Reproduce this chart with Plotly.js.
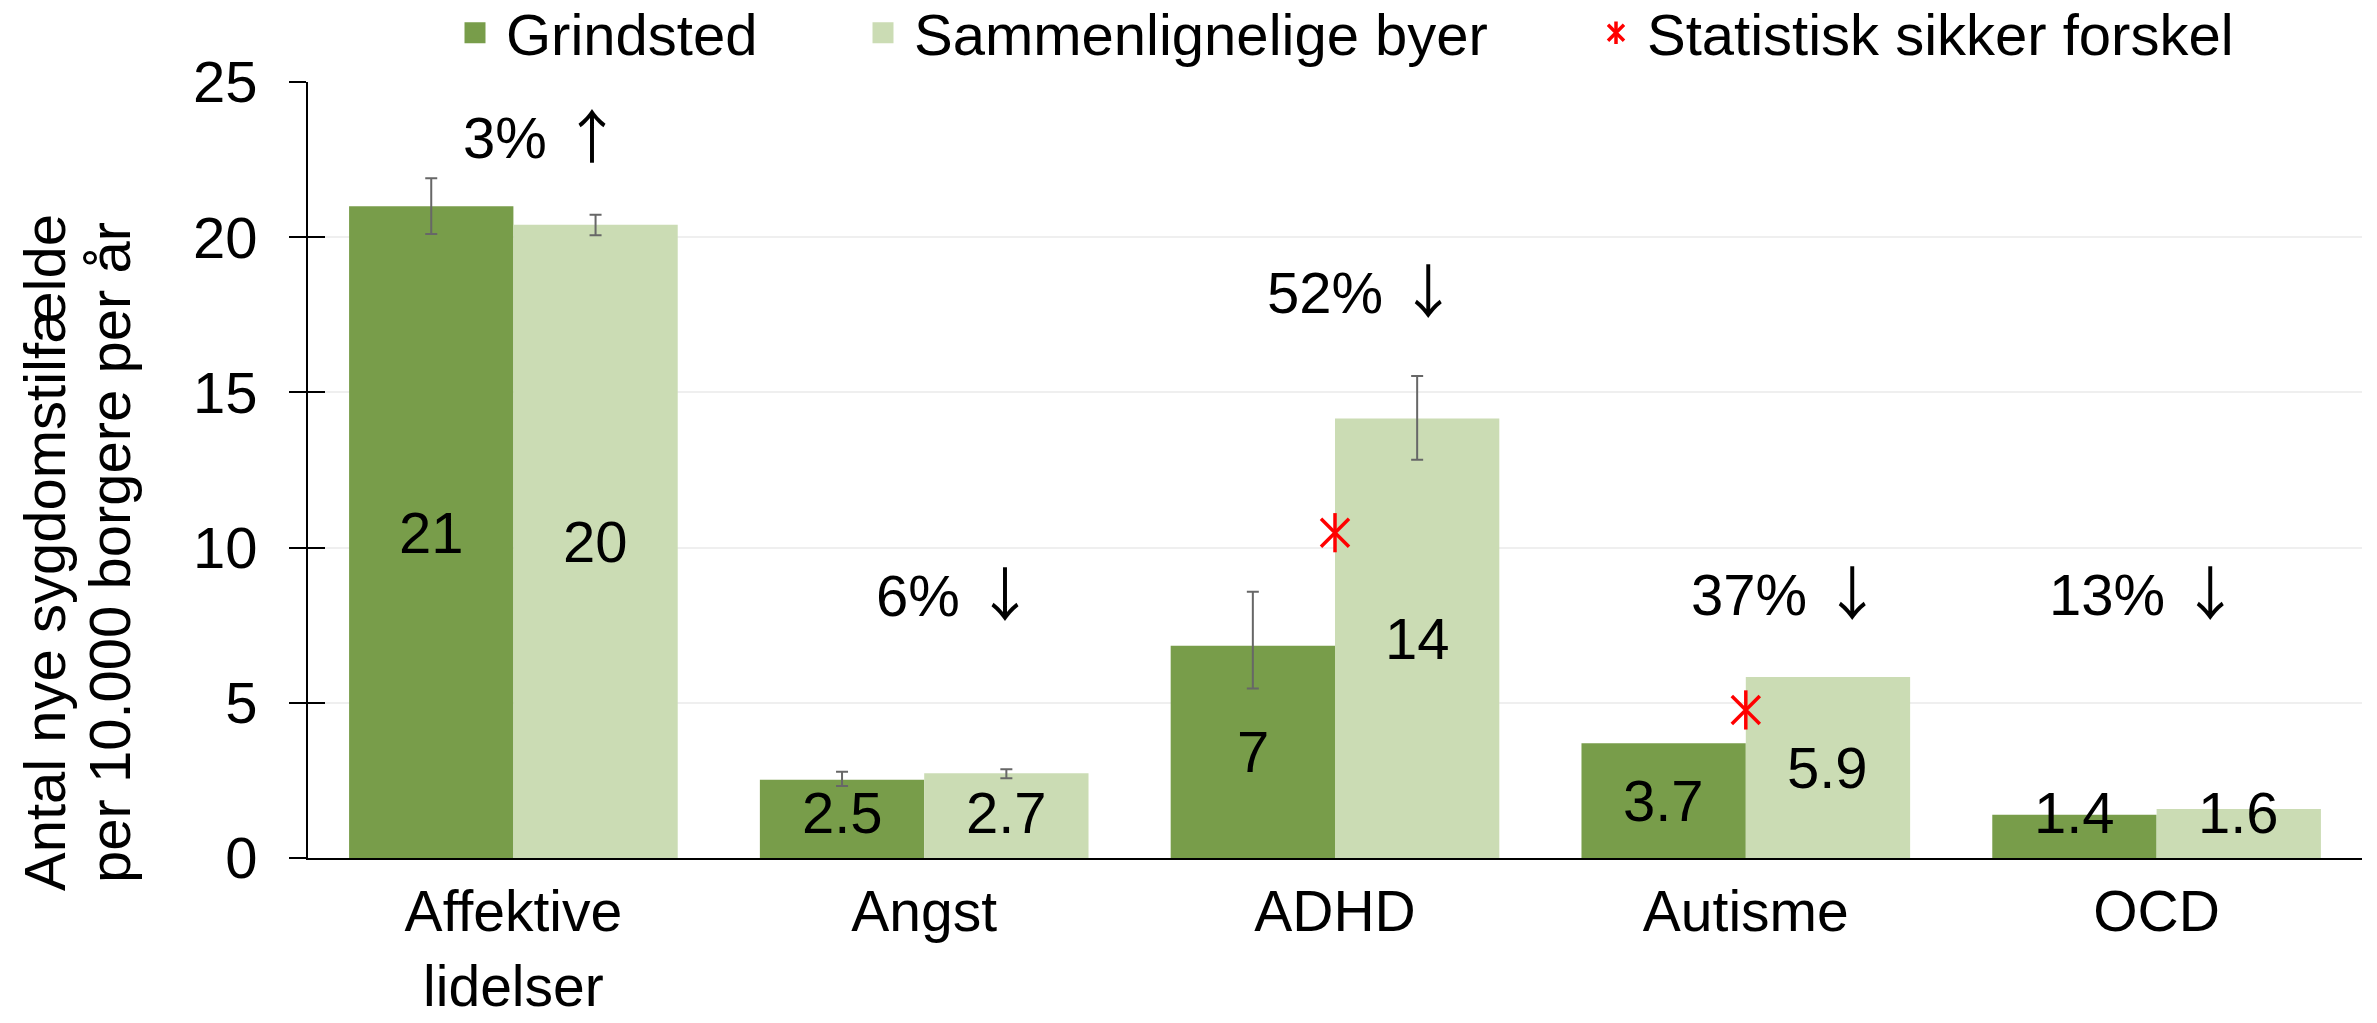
<!DOCTYPE html>
<html><head><meta charset="utf-8">
<script src="https://cdn.plot.ly/plotly-3.0.1.min.js"></script>
<style>html,body{margin:0;padding:0;background:#fff}#chart{width:2377px;height:1023px}</style>
</head><body><div id="chart"></div>
<script>
// ---- data ----
const categories = ['Affektive<br>lidelser', 'Angst', 'ADHD', 'Autisme', 'OCD'];
const seriesNames = ['Grindsted', 'Sammenlignelige byer'];
const grindsted = [21.0, 2.52, 6.84, 3.70, 1.39];
const comparable = [20.4, 2.73, 14.16, 5.83, 1.58];
const grindstedErrPlus = [0.90, 0.26, 1.74, NaN, NaN];
const grindstedErrMinus = [0.90, 0.20, 1.38, NaN, NaN];
const comparableErrPlus = [0.32, 0.13, 1.37, NaN, NaN];
const comparableErrMinus = [0.34, 0.16, 1.33, NaN, NaN];
const grindstedLabels = ['21', '2.5', '7', '3.7', '1.4'];
const comparableLabels = ['20', '2.7', '14', '5.9', '1.6'];
const changePercents = ['3%', '6%', '52%', '37%', '13%'];
const changeArrows = ['↑', '↓', '↓', '↓', '↓'];
const significantName = 'Statistisk sikker forskel';
const significantMarkerY = [null, null, 10.48, 4.77, null];
const yTitleLines = ['Antal nye sygdomstilfælde', 'per 10.000 borgere per år'];

// ---- style / layout constants ----
const W = 2377, H = 1023;
const M = {l: 308, r: 15, t: 82, b: 165, autoexpand: false};
const plotW = W - M.l - M.r, plotH = H - M.t - M.b;
const pxX = px => (px - M.l) / plotW;
const pxY = py => (H - M.b - py) / plotH;
const FONT = '"Liberation Sans", Arial, sans-serif';
const ARROW_FONT = "'Noto Sans CJK JP', 'DejaVu Sans', sans-serif";
const FS = 58;
const GREEN = '#789D4A', LIGHT = '#CBDCB4', RED = '#FF0000', ERR = '#676767';
const changeLabelY = [23.36, 8.59, 18.35, 8.62, 8.65];
const changeLabelShiftPx = [-52, -50, -70, -57, -110];
const minLabelY = 1.47;
const barHalfOffset = 0.2;

const errStyle = {color: ERR, thickness: 2, width: 6};

const traces = [
  {type: 'bar', x: categories, y: grindsted, name: seriesNames[0], showlegend: false,
   marker: {color: GREEN}, error_y: Object.assign({type: 'data', symmetric: false, array: grindstedErrPlus, arrayminus: grindstedErrMinus}, errStyle)},
  {type: 'bar', x: categories, y: comparable, name: seriesNames[1], showlegend: false,
   marker: {color: LIGHT}, error_y: Object.assign({type: 'data', symmetric: false, array: comparableErrPlus, arrayminus: comparableErrMinus}, errStyle)},
  {type: 'scatter', x: categories, y: significantMarkerY, yaxis: 'y2', mode: 'markers', name: significantName,
   legend: 'legend3', marker: {symbol: 'x-thin-open', size: 28, color: RED, line: {width: 3.5, color: RED}}},
  {type: 'scatter', x: categories, y: significantMarkerY, yaxis: 'y2', mode: 'markers', name: '',
   legend: 'legend4', marker: {symbol: 'line-ns-open', size: 28, color: RED, line: {width: 3.5, color: RED}}},
  // legend keys for the bar series
  {type: 'scatter', x: [null], y: [null], mode: 'markers', name: seriesNames[0], legend: 'legend',
   marker: {symbol: 'square', size: 16, color: GREEN, line: {width: 5, color: GREEN}}},
  {type: 'scatter', x: [null], y: [null], mode: 'markers', name: seriesNames[1], legend: 'legend2',
   marker: {symbol: 'square', size: 16, color: LIGHT, line: {width: 5, color: LIGHT}}}
];

const annotations = [];
categories.forEach((c, i) => {
  annotations.push({x: i - barHalfOffset, y: Math.max(grindsted[i] / 2, minLabelY), xref: 'x', yref: 'y',
    text: grindstedLabels[i], showarrow: false, xanchor: 'center', yanchor: 'middle', font: {size: FS, color: '#000'}});
  annotations.push({x: i + barHalfOffset, y: Math.max(comparable[i] / 2, minLabelY), xref: 'x', yref: 'y',
    text: comparableLabels[i], showarrow: false, xanchor: 'center', yanchor: 'middle', font: {size: FS, color: '#000'}});
  annotations.push({x: i, y: changeLabelY[i], xref: 'x', yref: 'y', xshift: changeLabelShiftPx[i],
    text: changePercents[i] + ' <span style="font-family:' + ARROW_FONT + '">' + changeArrows[i] + '</span>',
    showarrow: false, xanchor: 'left', yanchor: 'middle', font: {size: FS, color: '#000'}});
});
annotations.push({xref: 'paper', yref: 'paper', x: pxX(44), y: pxY(553), text: yTitleLines[0], textangle: -90,
  showarrow: false, xanchor: 'center', yanchor: 'middle', font: {size: FS, color: '#000'}});
annotations.push({xref: 'paper', yref: 'paper', x: pxX(109), y: pxY(553), text: yTitleLines[1], textangle: -90,
  showarrow: false, xanchor: 'center', yanchor: 'middle', font: {size: FS, color: '#000'}});

const legendBase = {orientation: 'h', xanchor: 'left', yanchor: 'middle', y: pxY(33), bgcolor: 'rgba(0,0,0,0)',
  borderwidth: 0, itemwidth: 52, font: {family: FONT, size: FS, color: '#000'}};

const layout = {
  width: W, height: H, margin: M,
  paper_bgcolor: '#fff', plot_bgcolor: '#fff',
  font: {family: FONT, size: FS, color: '#000'},
  barmode: 'group', bargap: 0.2, bargroupgap: 0,
  hovermode: false,
  xaxis: {type: 'category', showline: true, linecolor: '#000', linewidth: 2, ticks: '', showgrid: false,
    zeroline: false, tickfont: {size: 57, color: '#000'}, ticklabelstandoff: 3},
  yaxis: {range: [0, 25], dtick: 5, tick0: 0, showline: true, linecolor: '#000', linewidth: 2,
    ticks: 'outside', ticklen: 17, tickwidth: 2, tickcolor: '#000', gridcolor: '#EFEFEF', gridwidth: 2,
    zeroline: false, tickfont: {size: FS, color: '#000'}, ticklabelstandoff: 20},
  yaxis2: {overlaying: 'y', side: 'left', anchor: 'x', range: [0, 25], dtick: 5, tick0: 0,
    ticks: 'inside', ticklen: 17, tickwidth: 2, tickcolor: '#000', showticklabels: false,
    showgrid: false, showline: false, zeroline: false},
  legend: Object.assign({}, legendBase, {x: pxX(444)}),
  legend2: Object.assign({}, legendBase, {x: pxX(852)}),
  legend3: Object.assign({}, legendBase, {x: pxX(1585)}),
  legend4: Object.assign({}, legendBase, {x: pxX(1585)}),
  annotations: annotations
};

Plotly.newPlot('chart', traces, layout, {displayModeBar: false, staticPlot: true});
</script></body></html>
